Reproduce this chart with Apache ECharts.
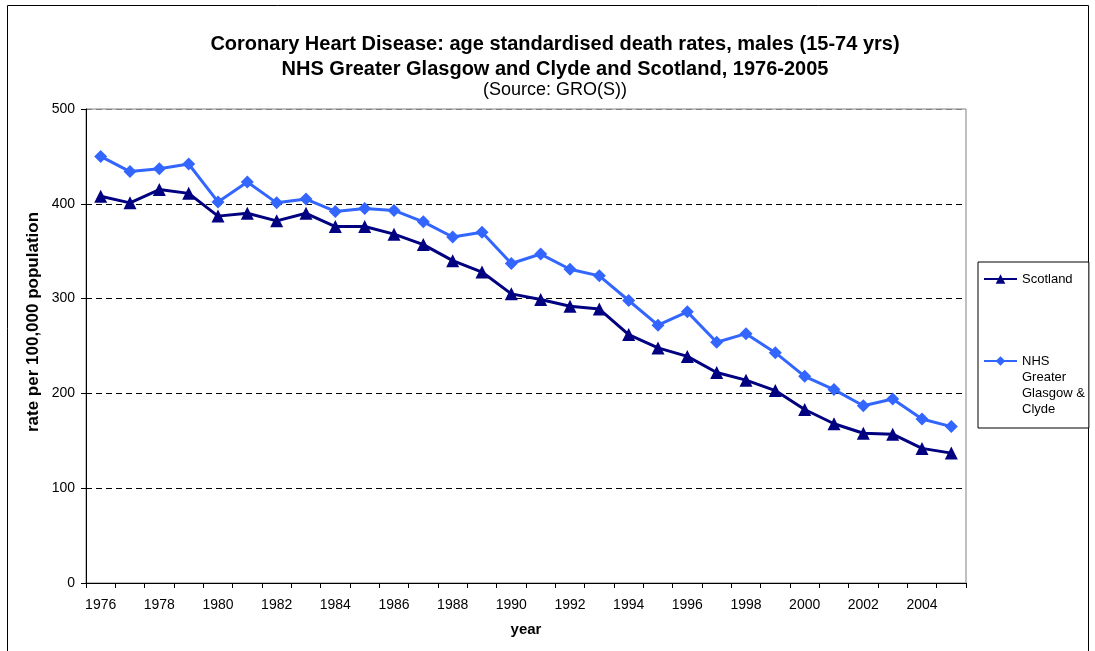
<!DOCTYPE html>
<html>
<head>
<meta charset="utf-8">
<title>Coronary Heart Disease death rates</title>
<script src="https://cdn.jsdelivr.net/npm/echarts@6/dist/echarts.min.js"></script>
<style>
  html, body { margin: 0; padding: 0; background: #fff; }
  #chart { width: 1095px; height: 651px; }
</style>
</head>
<body>
<div id="chart"></div>
<script>
// data
const years = ['1976', '1977', '1978', '1979', '1980', '1981', '1982', '1983', '1984', '1985',
  '1986', '1987', '1988', '1989', '1990', '1991', '1992', '1993', '1994', '1995',
  '1996', '1997', '1998', '1999', '2000', '2001', '2002', '2003', '2004', '2005']
const scotland = [408, 401, 415, 411, 387, 390, 382, 390, 376, 376,
  368, 357, 340, 328, 305, 299, 292, 289, 262, 248,
  239, 222, 214, 203, 183, 168, 158, 157, 142, 137]
const nhsGGC = [450, 434, 437, 442, 402, 423, 401, 405, 392, 395,
  393, 381, 365, 370, 337, 347, 331, 324, 298, 272,
  286, 254, 263, 243, 218, 204, 187, 194, 173, 165]
const yTicks = [0, 100, 200, 300, 400, 500]

const font = 'Liberation Sans, Arial, Helvetica, sans-serif'

const chart = echarts.init(document.getElementById('chart'), null, { renderer: 'canvas' })

chart.setOption({
  animation: false,
  backgroundColor: '#fff',
  title: [
    {
      text: 'Coronary Heart Disease: age standardised death rates, males (15-74 yrs)\nNHS Greater Glasgow and Clyde and Scotland, 1976-2005',
      left: 555,
      top: 32,
      padding: 0,
      textAlign: 'center',
      textStyle: { fontFamily: font, fontSize: 20, fontWeight: 'bold', color: '#000', lineHeight: 25 }
    },
    {
      text: '(Source: GRO(S))',
      left: 555,
      top: 80,
      padding: 0,
      textAlign: 'center',
      textStyle: { fontFamily: font, fontSize: 18, fontWeight: 'normal', color: '#000', lineHeight: 20 }
    }
  ],
  legend: {
    orient: 'vertical',
    left: 978,
    top: 262,
    padding: [9, 4, 11, 5],
    itemGap: 18,
    itemWidth: 33,
    itemHeight: 12,
    borderColor: '#000',
    borderWidth: 1,
    backgroundColor: '#fff',
    data: ['Scotland', 'NHS Greater Glasgow & Clyde'],
    // blank lines on top keep "NHS" level with the icon, as in the original
    formatter: function (name) {
      return name === 'Scotland' ? name : '\n\n\nNHS\nGreater\nGlasgow &\nClyde'
    },
    textStyle: { fontFamily: font, fontSize: 13, color: '#000', lineHeight: 16 }
  },
  grid: {
    left: 86,
    right: 129,
    top: 109,
    bottom: 68,
    show: true,
    borderColor: '#808080',
    borderWidth: 1,
    outerBoundsMode: 'none'
  },
  xAxis: {
    type: 'category',
    data: years,
    boundaryGap: true,
    name: 'year',
    nameLocation: 'middle',
    nameGap: 39,
    nameTextStyle: { fontFamily: font, fontSize: 15, fontWeight: 'bold', color: '#000' },
    axisLine: { lineStyle: { color: '#000', width: 1 } },
    axisTick: { show: true, interval: 0, length: 5, lineStyle: { color: '#000' } },
    axisLabel: { interval: 1, margin: 15, fontFamily: font, fontSize: 14, color: '#000' },
    splitLine: { show: false }
  },
  yAxis: {
    type: 'value',
    min: yTicks[0],
    max: yTicks[yTicks.length - 1],
    interval: 100,
    axisLine: { show: true, lineStyle: { color: '#000', width: 1 } },
    axisTick: { show: true, length: 5, lineStyle: { color: '#000' } },
    axisLabel: { margin: 11, fontFamily: font, fontSize: 14, color: '#000' },
    splitLine: {
      show: true,
      lineStyle: {
        type: [6, 4],
        width: 1,
        color: ['transparent', '#000', '#000', '#000', '#000', '#808080']
      }
    }
  },
  graphic: [
    {
      type: 'rect',
      silent: true,
      shape: { x: 7.5, y: 5.5, width: 1081, height: 700 },
      style: { fill: 'none', stroke: '#000', lineWidth: 1 }
    },
    {
      type: 'text',
      silent: true,
      x: 33,
      y: 322,
      rotation: Math.PI / 2,
      style: {
        text: 'rate per 100,000 population',
        font: 'bold 17px ' + font,
        fill: '#000',
        align: 'center',
        verticalAlign: 'middle'
      }
    }
  ],
  series: [
    {
      name: 'Scotland',
      type: 'line',
      data: scotland,
      symbol: 'triangle',
      symbolSize: 13,
      color: '#000080',
      lineStyle: { width: 3, color: '#000080' },
      itemStyle: { color: '#000080' }
    },
    {
      name: 'NHS Greater Glasgow & Clyde',
      type: 'line',
      data: nhsGGC,
      symbol: 'diamond',
      symbolSize: 13,
      color: '#3366ff',
      lineStyle: { width: 3, color: '#3366ff' },
      itemStyle: { color: '#3366ff' }
    }
  ]
})
</script>
</body>
</html>
